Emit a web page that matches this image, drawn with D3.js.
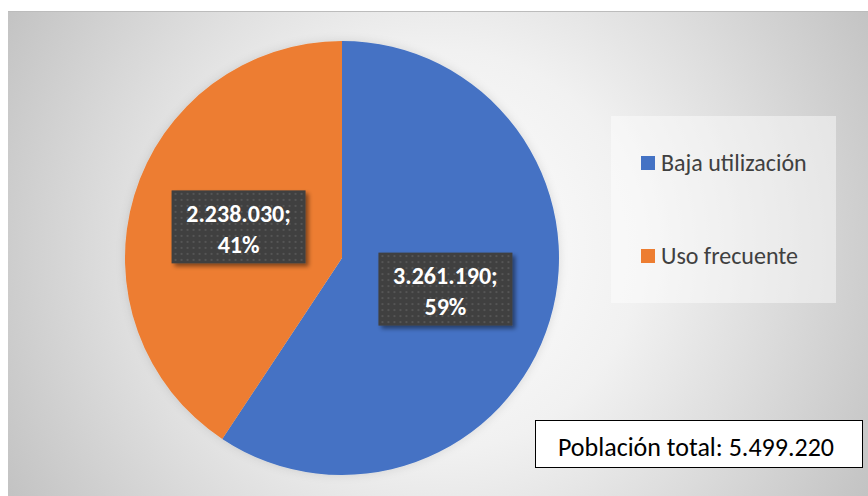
<!DOCTYPE html>
<html>
<head>
<meta charset="utf-8">
<script src="https://cdn.jsdelivr.net/npm/d3@7"></script>
<style>
  html, body { margin: 0; padding: 0; background: #fff; }
  svg { display: block; font-family: Carlito, Lato, "Open Sans", sans-serif; }
</style>
</head>
<body>
<div id="chart"></div>
<script>
// datos del gráfico
const categories = ['Baja utilización', 'Uso frecuente']
const values = [3261190, 2238030]
const colors = ['#4472C4', '#ED7D31']
const totalLabel = 'Población total: '

const width = 868
const height = 496

// separador de miles con punto
const locale = d3.formatLocale({ decimal: ',', thousands: '.', grouping: [3], currency: ['', ''] })
const fmt = locale.format(',d')

const svg = d3.select('#chart').append('svg')
  .attr('width', width)
  .attr('height', height)

const defs = svg.append('defs')

// fondo con degradado radial
const grad = defs.append('radialGradient')
  .attr('id', 'bg')
  .attr('gradientUnits', 'userSpaceOnUse')
  .attr('cx', 440).attr('cy', 250).attr('r', 500)
grad.append('stop').attr('offset', 0).attr('stop-color', '#ffffff')
grad.append('stop').attr('offset', 0.4).attr('stop-color', '#f1f1f1')
grad.append('stop').attr('offset', 0.65).attr('stop-color', '#dedede')
grad.append('stop').attr('offset', 1).attr('stop-color', '#c2c2c2')

// patrón de puntos para las etiquetas
const pat = defs.append('pattern')
  .attr('id', 'dots')
  .attr('patternUnits', 'userSpaceOnUse')
  .attr('width', 6).attr('height', 6)
pat.append('rect').attr('width', 6).attr('height', 6).attr('fill', '#404040')
pat.append('rect').attr('x', 2).attr('y', 2).attr('width', 2).attr('height', 2).attr('fill', '#545454')

// sombras
const sh = defs.append('filter').attr('id', 'shadow')
  .attr('x', '-20%').attr('y', '-20%').attr('width', '150%').attr('height', '150%')
sh.append('feDropShadow')
  .attr('dx', 3).attr('dy', 3).attr('stdDeviation', 2)
  .attr('flood-color', '#000').attr('flood-opacity', 0.45)

const glow = defs.append('filter').attr('id', 'glow')
  .attr('x', '-20%').attr('y', '-20%').attr('width', '140%').attr('height', '140%')
glow.append('feDropShadow')
  .attr('dx', 0).attr('dy', 0).attr('stdDeviation', 5)
  .attr('flood-color', '#000').attr('flood-opacity', 0.12)

svg.append('rect')
  .attr('x', 8).attr('y', 11)
  .attr('width', width - 8).attr('height', height - 11)
  .attr('fill', 'url(#bg)')
svg.append('line')
  .attr('x1', 8).attr('x2', width).attr('y1', 11.5).attr('y2', 11.5)
  .attr('stroke', '#bcbcbc')

// tarta
const cx = 342
const cy = 258
const radius = 217

const pie = d3.pie().sort(null).value((d) => d.value)
const data = pie(categories.map((c, i) => ({ name: c, value: values[i], color: colors[i] })))
const arc = d3.arc().innerRadius(0).outerRadius(radius)
const labelArc = d3.arc().innerRadius(108).outerRadius(108)

const g = svg.append('g').attr('transform', `translate(${cx}, ${cy})`)

g.append('g').attr('filter', 'url(#glow)')
  .selectAll('path')
  .data(data)
  .enter()
  .append('path')
  .attr('d', arc)
  .attr('fill', (d) => d.data.color)

const total = d3.sum(values)
const boxW = 134
const boxH = 73

const labels = g.selectAll('.lbl')
  .data(data)
  .enter()
  .append('g')
  .attr('class', 'lbl')
  .attr('transform', (d) => `translate(${labelArc.centroid(d)})`)

labels.append('rect')
  .attr('x', -boxW / 2).attr('y', -boxH / 2)
  .attr('width', boxW).attr('height', boxH)
  .attr('fill', 'url(#dots)')
  .attr('filter', 'url(#shadow)')

labels.append('text')
  .attr('text-anchor', 'middle')
  .attr('y', -5)
  .attr('fill', '#fff')
  .attr('font-weight', 'bold')
  .attr('font-size', 24)
  .text((d) => fmt(d.data.value) + ';')

labels.append('text')
  .attr('text-anchor', 'middle')
  .attr('y', 26)
  .attr('fill', '#fff')
  .attr('font-weight', 'bold')
  .attr('font-size', 24)
  .text((d) => Math.round(d.data.value / total * 100) + '%')

// leyenda
const legend = svg.append('g')
legend.append('rect')
  .attr('x', 611).attr('y', 116)
  .attr('width', 225).attr('height', 187)
  .attr('fill', '#ffffff').attr('fill-opacity', 0.45)

const legendY = d3.scalePoint().domain(categories).range([163, 256])

const items = legend.selectAll('.item')
  .data(categories)
  .enter()
  .append('g')
  .attr('transform', (d) => `translate(641, ${legendY(d)})`)

items.append('rect')
  .attr('x', 0).attr('y', -7)
  .attr('width', 14).attr('height', 14)
  .attr('fill', (d, i) => colors[i])

items.append('text')
  .attr('x', 20).attr('y', 8)
  .attr('font-size', 24)
  .attr('fill', '#404040')
  .text((d) => d)

// caja de total
svg.append('rect')
  .attr('x', 535.5).attr('y', 420.5)
  .attr('width', 327).attr('height', 47)
  .attr('fill', '#fff').attr('stroke', '#000').attr('stroke-width', 1)

svg.append('text')
  .attr('x', 696).attr('y', 456)
  .attr('text-anchor', 'middle')
  .attr('font-size', 26)
  .attr('fill', '#000')
  .text(totalLabel + fmt(total))
</script>
</body>
</html>
